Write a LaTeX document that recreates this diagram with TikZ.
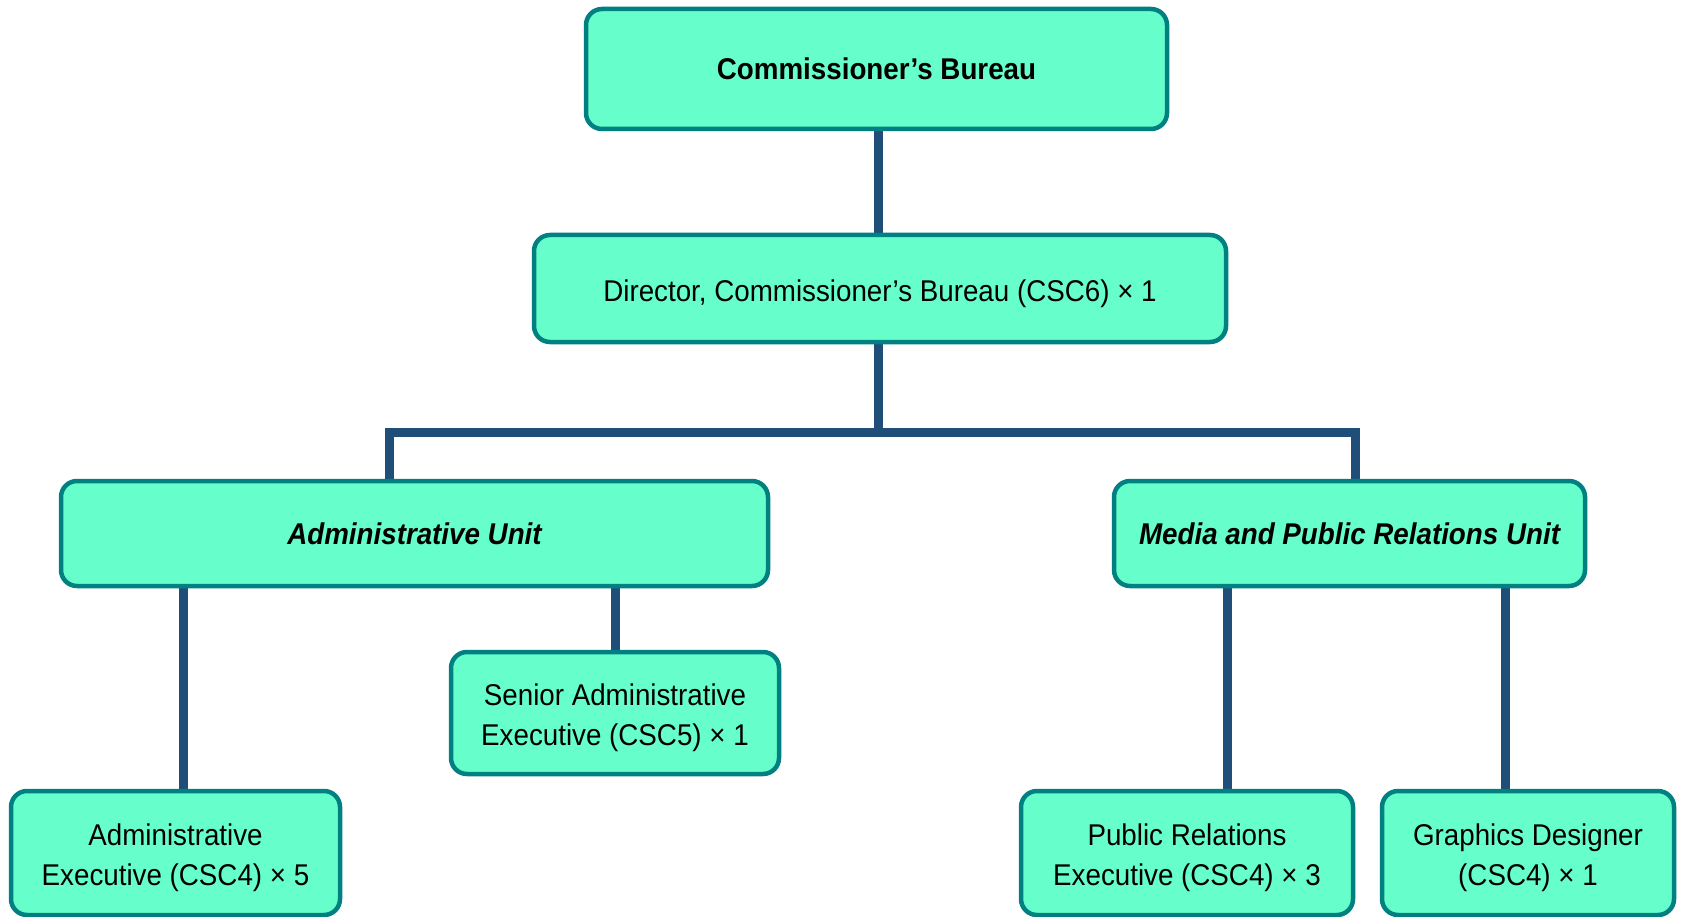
\documentclass[tikz,border=0pt]{standalone}
\usepackage{fontspec}
\setmainfont{Liberation Sans}[FakeStretch=0.925]
\usetikzlibrary{backgrounds}
\definecolor{boxfill}{HTML}{66FFCC}
\definecolor{boxline}{HTML}{008080}
\definecolor{conn}{HTML}{1F4E79}
\newcommand{\lowstrut}{\rule{0pt}{32pt}}
\begin{document}
\begin{tikzpicture}[x=1pt,y=-1pt,
  orgbox/.style={draw=boxline, fill=boxfill, line width=4.5pt, rounded corners=16pt,
    align=center, inner sep=0pt, font=\fontsize{30}{40}\selectfont},
  link/.style={draw=conn, line width=9pt, line join=miter}]
\useasboundingbox (0,0) rectangle (1686,917);
\node[orgbox, minimum width=581pt, minimum height=120pt, font=\fontsize{30}{40}\selectfont\bfseries] (top) at (876.5,69) {Commissioner’s Bureau};
\node[orgbox, minimum width=692pt, minimum height=107pt] (dir) at (880,288.5) {\lowstrut Director, Commissioner’s Bureau (CSC6) × 1};
\node[orgbox, minimum width=707pt, minimum height=105pt, font=\fontsize{30}{40}\selectfont\bfseries\itshape] (adu) at (414.5,533.5) {Administrative Unit};
\node[orgbox, minimum width=471pt, minimum height=105pt, font=\fontsize{30}{40}\selectfont\bfseries\itshape] (mpu) at (1349.5,533.5) {Media and Public Relations Unit};
\node[orgbox, minimum width=328pt, minimum height=122pt] (sae) at (615,713) {\lowstrut Senior Administrative\\Executive (CSC5) × 1};
\node[orgbox, minimum width=329pt, minimum height=124pt] (aex) at (175.5,853) {\lowstrut Administrative\\Executive (CSC4) × 5};
\node[orgbox, minimum width=332pt, minimum height=124pt] (pre) at (1187,853) {\lowstrut Public Relations\\Executive (CSC4) × 3};
\node[orgbox, minimum width=292pt, minimum height=124pt] (gd) at (1528,853) {\lowstrut Graphics Designer\\(CSC4) × 1};
\coordinate (bar) at (878,432);
\begin{scope}[on background layer]
\fill[white] (0,0) rectangle (1686,917);
\draw[link] (top.south -| bar) -- (dir.north -| bar);
\draw[link] (dir.south -| bar) -- (bar);
\draw[link] (adu.north -| 389,0) |- (bar) -| (mpu.north -| 1355,0);
\draw[link] (adu.south -| 183,0) -- (aex.north -| 183,0);
\draw[link] (adu.south -| sae.north) -- (sae.north);
\draw[link] (mpu.south -| 1227,0) -- (pre.north -| 1227,0);
\draw[link] (mpu.south -| 1505,0) -- (gd.north -| 1505,0);
\end{scope}
\end{tikzpicture}
\end{document}
